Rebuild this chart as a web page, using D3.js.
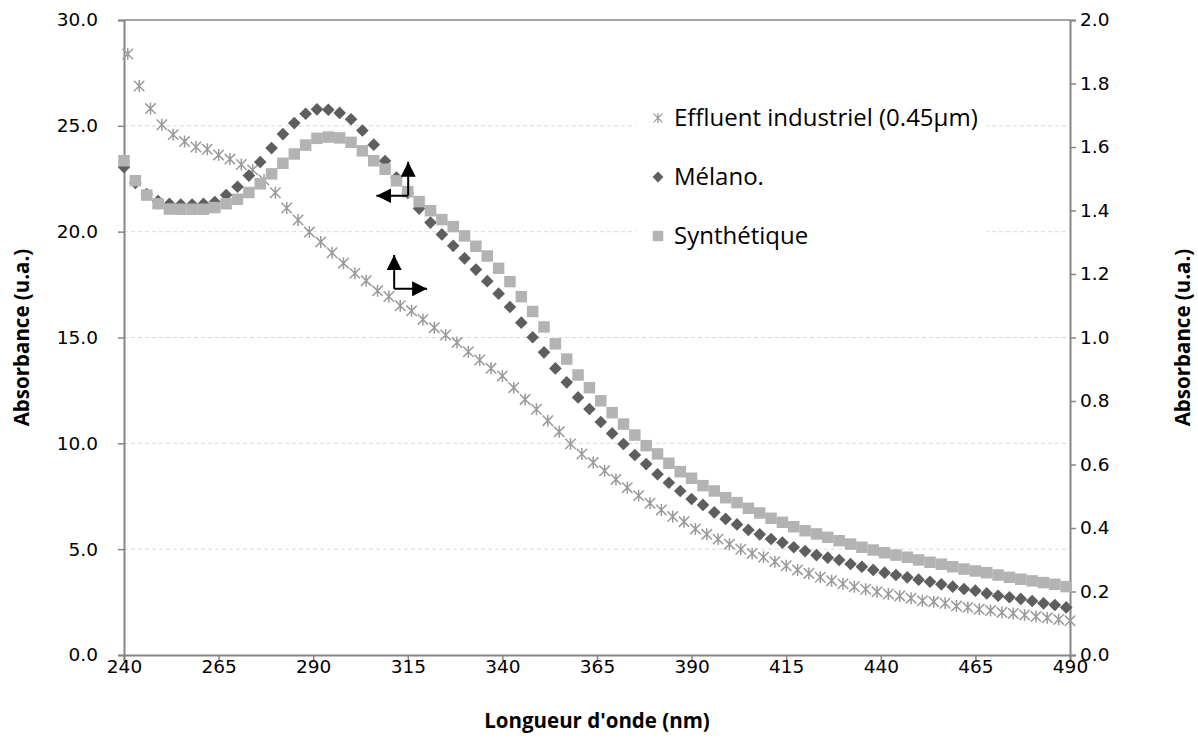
<!DOCTYPE html>
<html>
<head>
<meta charset="utf-8">
<script src="https://cdn.jsdelivr.net/npm/d3@7"></script>
<style>
  html, body { margin: 0; padding: 0; background: #fff; }
  svg { display: block; }
</style>
</head>
<body>
<svg id="chart" width="1198" height="756"></svg>
<script>
// ---------------- DATA ----------------
// Wavelengths (nm)
const wlMelano = d3.range(84).map(i => 240 + 3 * i);      // 240..489
const wlEffluent = d3.range(84).map(i => 241 + 3 * i);    // 241..490

// Effluent industriel (0.45µm) – secondary (right) axis
const effluent = [
  1.893, 1.792, 1.721, 1.670, 1.639, 1.617, 1.600, 1.593, 1.575, 1.562,
  1.545, 1.528, 1.496, 1.456, 1.408, 1.370, 1.332, 1.301, 1.267, 1.234,
  1.202, 1.179, 1.147, 1.129, 1.100, 1.084, 1.057, 1.031, 1.008, 0.984,
  0.955, 0.929, 0.903, 0.879, 0.842, 0.805, 0.774, 0.738, 0.703, 0.665,
  0.633, 0.606, 0.580, 0.553, 0.527, 0.502, 0.478, 0.457, 0.436, 0.420,
  0.397, 0.380, 0.365, 0.349, 0.333, 0.320, 0.308, 0.294, 0.281, 0.268,
  0.257, 0.245, 0.234, 0.224, 0.215, 0.207, 0.199, 0.192, 0.186, 0.179,
  0.171, 0.168, 0.163, 0.154, 0.150, 0.144, 0.140, 0.134, 0.131, 0.126,
  0.121, 0.117, 0.112, 0.108
];

// Mélano. – primary (left) axis
const melano = [
  23.05, 22.30, 21.78, 21.45, 21.31, 21.28, 21.28, 21.31, 21.40, 21.73,
  22.12, 22.65, 23.29, 23.95, 24.61, 25.13, 25.57, 25.78, 25.76, 25.61,
  25.31, 24.78, 24.11, 23.34, 22.56, 21.83, 21.09, 20.43, 19.87, 19.33,
  18.74, 18.21, 17.66, 17.07, 16.44, 15.70, 15.01, 14.30, 13.54, 12.88,
  12.17, 11.62, 11.01, 10.47, 9.97, 9.45, 9.02, 8.54, 8.14, 7.75,
  7.37, 7.09, 6.74, 6.43, 6.17, 5.91, 5.70, 5.48, 5.31, 5.09,
  4.91, 4.72, 4.60, 4.49, 4.30, 4.17, 4.02, 3.89, 3.78, 3.67,
  3.56, 3.46, 3.34, 3.23, 3.12, 3.04, 2.91, 2.80, 2.73, 2.65,
  2.55, 2.44, 2.36, 2.25
];

// Synthétique – primary (left) axis
const synthetique = [
  23.35, 22.41, 21.73, 21.32, 21.07, 21.06, 21.06, 21.06, 21.14, 21.32,
  21.53, 21.85, 22.26, 22.73, 23.23, 23.67, 24.09, 24.41, 24.47, 24.43,
  24.22, 23.82, 23.35, 22.95, 22.40, 21.89, 21.42, 20.99, 20.57, 20.24,
  19.80, 19.31, 18.85, 18.27, 17.64, 16.93, 16.23, 15.50, 14.70, 13.98,
  13.23, 12.63, 12.01, 11.45, 10.91, 10.39, 9.89, 9.50, 9.06, 8.66,
  8.35, 8.00, 7.75, 7.43, 7.20, 6.93, 6.71, 6.46, 6.27, 6.06,
  5.87, 5.72, 5.56, 5.40, 5.24, 5.09, 4.96, 4.83, 4.72, 4.62,
  4.49, 4.38, 4.29, 4.17, 4.06, 3.97, 3.89, 3.78, 3.67, 3.58,
  3.50, 3.42, 3.34, 3.23
];

const xTicks = [240, 265, 290, 315, 340, 365, 390, 415, 440, 465, 490];
const yLeftTicks = [0, 5, 10, 15, 20, 25, 30];
const yRightTicks = [0, 0.2, 0.4, 0.6, 0.8, 1.0, 1.2, 1.4, 1.6, 1.8, 2.0];

const seriesNames = ["Effluent industriel (0.45µm)", "Mélano.", "Synthétique"];

// arrow annotations (data units, left axis): corner point, vertical tip, horizontal tip
const arrowLeft = { x: 315.1, y: 21.7, yTip: 23.3, xTip: 306.7 };
const arrowRight = { x: 311.4, y: 17.3, yTip: 18.9, xTip: 320.1 };

// ---------------- CHART ----------------
(function () {
const svg = d3.select("#chart");
const mLeft = 124, mRight = 1070, mTop = 20, mBottom = 655;

const x = d3.scaleLinear().domain([240, 490]).range([mLeft, mRight]);
const yL = d3.scaleLinear().domain([0, 30]).range([mBottom, mTop]);
const yR = d3.scaleLinear().domain([0, 2]).range([mBottom, mTop]);

const axisColor = "#868686";
const tickFont = "'DejaVu Sans', Verdana, sans-serif";
const textFont = "'Open Sans', 'Noto Sans', sans-serif";
const tickSizePx = 18.5;

// gridlines
svg.append("g").selectAll("line").data(yLeftTicks.filter(d => d > 0 && d < 30)).join("line")
  .attr("x1", mLeft).attr("x2", mRight)
  .attr("y1", d => yL(d)).attr("y2", d => yL(d))
  .attr("stroke", "#d9d9d9").attr("stroke-width", 1)
  .attr("stroke-dasharray", "4,3");

// top border
svg.append("line").attr("x1", mLeft).attr("x2", mRight).attr("y1", yL(30)).attr("y2", yL(30))
  .attr("stroke", axisColor).attr("stroke-width", 1.5);

// axes
const fmt1 = d3.format(".1f");
const gx = svg.append("g").attr("transform", `translate(0,${mBottom})`)
  .call(d3.axisBottom(x).tickValues(xTicks).tickSize(6).tickPadding(-1).tickFormat(d3.format("d")));
const gl = svg.append("g").attr("transform", `translate(${mLeft},0)`)
  .call(d3.axisLeft(yL).tickValues(yLeftTicks).tickSize(6).tickPadding(20).tickFormat(fmt1));
const gr = svg.append("g").attr("transform", `translate(${mRight},0)`)
  .call(d3.axisRight(yR).tickValues(yRightTicks).tickSize(6).tickPadding(4).tickFormat(fmt1));

[gx, gl, gr].forEach(g => {
  g.attr("font-family", tickFont).attr("font-size", tickSizePx);
  g.select(".domain").attr("stroke", axisColor).attr("stroke-width", 2);
  g.selectAll(".tick line").attr("stroke", axisColor).attr("stroke-width", 1.5);
  g.selectAll(".tick text").attr("font-family", tickFont).attr("font-size", tickSizePx).attr("fill", "#000");
});

// marker generators
const sq = d3.symbol().type(d3.symbolSquare).size(132);
const dia = d3.symbol().type(d3.symbolSquare).size(80);
function asterisk(s) {
  return `M${-s},${-s}L${s},${s}M${-s},${s}L${s},${-s}M0,${-s * 1.15}L0,${s * 1.15}`;
}

const effData = wlEffluent.map((w, i) => ({ w, v: effluent[i] }));
const melData = wlMelano.map((w, i) => ({ w, v: melano[i] }));
const synData = wlMelano.map((w, i) => ({ w, v: synthetique[i] }));

const effColor = "#9a9a9a", melColor = "#5e5e5e", synColor = "#b3b3b3";

const plot = svg.append("g");

plot.append("g").selectAll("path").data(effData).join("path")
  .attr("transform", d => `translate(${x(d.w)},${yR(d.v)})`)
  .attr("d", asterisk(5.2))
  .attr("fill", "none").attr("stroke", effColor).attr("stroke-width", 1.5);

plot.append("g").selectAll("path").data(melData).join("path")
  .attr("transform", d => `translate(${x(d.w)},${yL(d.v)}) rotate(45)`)
  .attr("d", dia).attr("fill", melColor);

plot.append("g").selectAll("path").data(synData).join("path")
  .attr("transform", d => `translate(${x(d.w)},${yL(d.v)})`)
  .attr("d", sq).attr("fill", synColor);

// legend
const lg = svg.append("g");
lg.append("rect").attr("x", 636).attr("y", 95).attr("width", 350).attr("height", 165).attr("fill", "#fff");
const legendRows = [
  { name: seriesNames[0], type: "ast", color: effColor },
  { name: seriesNames[1], type: "dia", color: melColor },
  { name: seriesNames[2], type: "sq", color: synColor }
];
const legY = [118, 177, 236];
legendRows.forEach((r, i) => {
  const g = lg.append("g").attr("transform", `translate(658,${legY[i]})`);
  if (r.type === "ast") g.append("path").attr("d", asterisk(4.4)).attr("fill", "none").attr("stroke", r.color).attr("stroke-width", 1.3);
  if (r.type === "dia") g.append("path").attr("d", d3.symbol().type(d3.symbolSquare).size(58)()).attr("transform", "rotate(45)").attr("fill", r.color);
  if (r.type === "sq") g.append("path").attr("d", d3.symbol().type(d3.symbolSquare).size(110)()).attr("fill", r.color);
  g.append("text").attr("x", 16).attr("y", 0).attr("dy", "0.35em")
    .attr("font-family", textFont).attr("font-size", 24).attr("fill", "#000").text(r.name);
});

// arrows
const defs = svg.append("defs");
defs.append("marker").attr("id", "ah").attr("viewBox", "0 0 10 10")
  .attr("refX", 10).attr("refY", 5).attr("markerWidth", 15).attr("markerHeight", 15)
  .attr("preserveAspectRatio", "none")
  .attr("markerUnits", "userSpaceOnUse").attr("orient", "auto")
  .append("path").attr("d", "M0,0L10,5L0,10Z").attr("fill", "#000");

function drawArrow(a) {
  const g = svg.append("g");
  g.append("line").attr("x1", x(a.x)).attr("y1", yL(a.y)).attr("x2", x(a.x)).attr("y2", yL(a.yTip))
    .attr("stroke", "#000").attr("stroke-width", 2).attr("marker-end", "url(#ah)");
  g.append("line").attr("x1", x(a.x)).attr("y1", yL(a.y)).attr("x2", x(a.xTip)).attr("y2", yL(a.y))
    .attr("stroke", "#000").attr("stroke-width", 2).attr("marker-end", "url(#ah)");
}
drawArrow(arrowLeft);
drawArrow(arrowRight);

// axis titles
const titleSize = 20.5;
svg.append("text").attr("x", (mLeft + mRight) / 2).attr("y", 721).attr("dy", "0.35em")
  .attr("text-anchor", "middle").attr("font-family", textFont).attr("font-weight", "bold")
  .attr("font-size", titleSize).text("Longueur d'onde (nm)");
svg.append("text").attr("transform", `translate(22,${(mTop + mBottom) / 2}) rotate(-90)`)
  .attr("dy", "0.35em").attr("text-anchor", "middle").attr("font-family", textFont)
  .attr("font-weight", "bold").attr("font-size", titleSize).text("Absorbance (u.a.)");
svg.append("text").attr("transform", `translate(1183,${(mTop + mBottom) / 2}) rotate(-90)`)
  .attr("dy", "0.35em").attr("text-anchor", "middle").attr("font-family", textFont)
  .attr("font-weight", "bold").attr("font-size", titleSize).text("Absorbance (u.a.)");
})();
</script>
</body>
</html>
